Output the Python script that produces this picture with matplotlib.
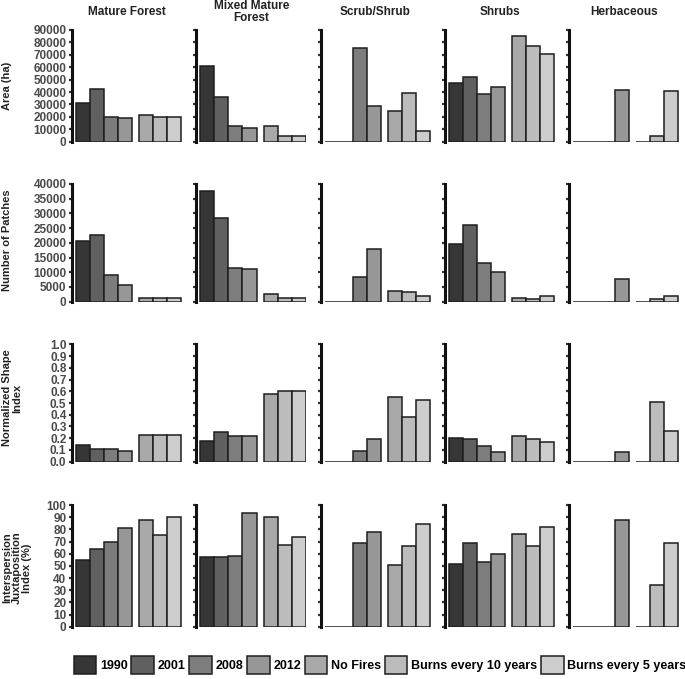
import matplotlib
matplotlib.use("Agg")
import matplotlib.pyplot as plt
import numpy as np
from matplotlib.patches import Patch

plt.rcParams['font.family'] = ['Liberation Sans', 'DejaVu Sans']
plt.rcParams['font.weight'] = 'bold'

# Data
covers = ["Mature Forest", "Mixed Mature\nForest", "Scrub/Shrub", "Shrubs", "Herbaceous"]
scenarios = ["1990", "2001", "2008", "2012", "No Fires",
             "Burns every 10 years", "Burns every 5 years"]
metrics = ["Area (ha)", "Number of Patches", "Normalized Shape\nIndex",
           "Interspersion\nJuxtaposition\nIndex (%)"]

# one row per cover type, one value per scenario
area = [
    [31000, 42500, 20000, 19000, 21500, 19500, 19500],
    [61000, 36000, 13000, 11000, 12500, 4500, 4500],
    [0, 0, 75500, 29000, 25000, 39500, 9000],
    [47000, 52300, 38700, 43800, 85500, 77000, 71000],
    [0, 0, 0, 42000, 0, 4500, 41000],
]
n_patches = [
    [20500, 22800, 9000, 5600, 1200, 1100, 1100],
    [37600, 28500, 11500, 11100, 2700, 1100, 1100],
    [0, 0, 8500, 17800, 3800, 3400, 2000],
    [19600, 26000, 13200, 10100, 1400, 1000, 2100],
    [0, 0, 0, 7700, 0, 1000, 1900],
]
shape_index = [
    [0.14, 0.11, 0.11, 0.09, 0.225, 0.225, 0.225],
    [0.18, 0.25, 0.22, 0.22, 0.575, 0.60, 0.60],
    [0, 0, 0.095, 0.19, 0.555, 0.38, 0.525],
    [0.205, 0.195, 0.135, 0.085, 0.22, 0.19, 0.17],
    [0, 0, 0, 0.08, 0, 0.51, 0.265],
]
iji = [
    [55, 64, 70, 81, 87.5, 75.5, 90],
    [57.5, 57.5, 58.5, 93.5, 90, 67, 74],
    [0, 0, 69, 78, 50.5, 66, 84.5],
    [51.5, 68.5, 53, 60, 76, 66, 82],
    [0, 0, 0, 87.5, 0, 34, 69],
]
all_data = [area, n_patches, shape_index, iji]
y_max = [90000, 40000, 1.0, 100]
y_step = [10000, 5000, 0.1, 10]

colors = ['#363636', '#606060', '#7d7d7d', '#979797', '#a9a9a9', '#bcbcbc', '#cdcdcd']
x_pos = [0, 1, 2, 3, 4.5, 5.5, 6.5]

W, H = 685, 679
fig = plt.figure(figsize=(W / 100, H / 100), dpi=100)

col_left = [72 + 124.25 * i for i in range(5)]
ax_w = 110
rows_px = [(30, 141.7), (184, 301.7), (344.3, 461.7), (505, 626.7)]
label_y = [86, 240, 398, 568]

for r in range(4):
    top, bot = rows_px[r]
    for c in range(5):
        ax = fig.add_axes([col_left[c] / W, 1 - bot / H, ax_w / W, (bot - top) / H])
        ax.bar(x_pos, all_data[r][c], width=1.0, color=colors,
               edgecolor='#1e1e1e', linewidth=1.1)
        ax.set_xlim(-0.8, 7.05)
        ax.set_ylim(0, y_max[r])
        ticks = np.arange(0, y_max[r] + y_step[r] / 2, y_step[r])
        ax.set_yticks(ticks)
        if r == 2:
            ax.set_yticklabels([f'{t:.1f}' for t in ticks])
        else:
            ax.set_yticklabels([f'{t:.0f}' for t in ticks])
        ax.set_xticks([])
        for s in ['top', 'right', 'bottom']:
            ax.spines[s].set_visible(False)
        ax.spines['left'].set_linewidth(2.2)
        ax.spines['left'].set_color('#111111')
        ax.tick_params(axis='y', length=2.5, width=1.6, color='#333333',
                       pad=1.5, labelsize=8.5, labelcolor='#4a4a4a',
                       labelleft=(c == 0))

        if r == 0:
            fig.text((col_left[c] + ax_w / 2) / W, 1 - 12 / H, covers[c],
                     ha='center', va='center', fontsize=8.5, color='#222222',
                     linespacing=1.0)
    fig.text(2 / W, 1 - label_y[r] / H, metrics[r], rotation=90,
             ha='left', va='center', multialignment='center',
             fontsize=8, color='#222222', linespacing=1.0)

handles = [Patch(facecolor=colors[i], edgecolor='#1e1e1e', linewidth=1.1)
           for i in range(7)]
fig.legend(handles, scenarios, loc='center', bbox_to_anchor=(380 / W, 1 - 665 / H),
           ncol=7, frameon=False, fontsize=9, handlelength=1.8, handleheight=1.8,
           handletextpad=0.3, columnspacing=0.3, borderaxespad=0)

fig.savefig('out.png', dpi=100)
